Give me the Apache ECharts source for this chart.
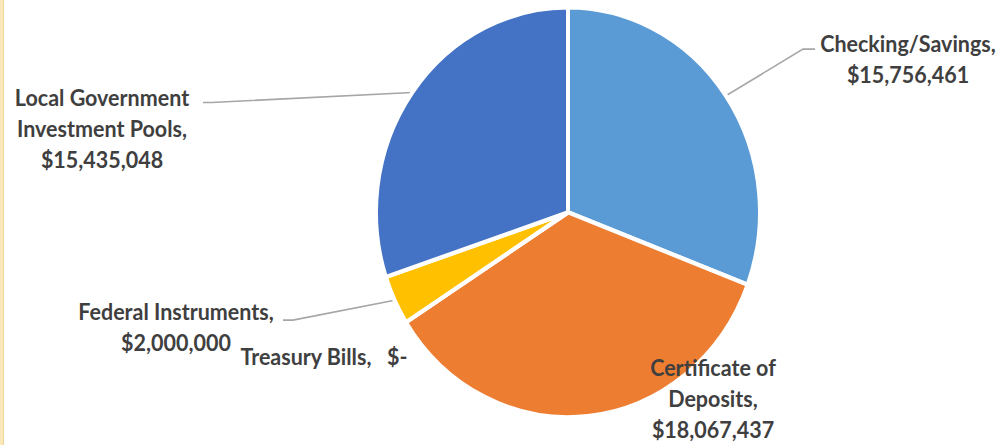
<!DOCTYPE html>
<html>
<head>
<meta charset="utf-8">
<script src="https://cdn.jsdelivr.net/npm/echarts@6/dist/echarts.min.js"></script>
<style>
  html, body { margin: 0; padding: 0; background: #ffffff; overflow: hidden; }
  #wrap { position: relative; width: 1000px; height: 445px; }
  #edge { position: absolute; left: 0; top: 0; width: 3px; height: 445px;
          background: #fbe8b8; border-right: 1px solid #efd69c; }
  #chart { position: absolute; left: 0; top: 0; width: 1000px; height: 417px;
           transform: scaleY(1.0671); transform-origin: 0 0; }
</style>
</head>
<body>
<div id="wrap">
  <div id="chart"></div>
  <div id="edge"></div>
</div>
<script>
// Portfolio holdings by investment type
const categories = [
  'Checking/Savings',
  'Certificate of\nDeposits',
  'Treasury Bills',
  'Federal Instruments',
  'Local Government\nInvestment Pools'
];
const amounts = [15756461, 18067437, 0, 2000000, 15435048];
const sliceColors = ['#5B9BD5', '#ED7D31', '#A5A5A5', '#FFC000', '#4472C4'];

// Where each label sits, and the bend/end of its leader line (null = no line)
const labelSpots = [
  { x: 908, y: 55,  line: [[803, 46], [815, 46]] },
  { x: 713, y: 373, line: null },
  { x: 324, y: 334, line: null },
  { x: 176, y: 306, line: [[293, 300], [283, 300]] },
  { x: 102, y: 120, line: [[212, 96], [203, 96]] }
];

function money(v) {
  return v === 0 ? '$-' : '$' + v.toLocaleString('en-US');
}

const chart = echarts.init(document.getElementById('chart'), null, { renderer: 'svg' });

chart.setOption({
  animation: false,
  backgroundColor: '#ffffff',
  series: [{
    type: 'pie',
    center: [568, 199],
    radius: 192,
    startAngle: 90,
    clockwise: true,
    minShowLabelAngle: 0,
    avoidLabelOverlap: false,
    itemStyle: { borderColor: '#ffffff', borderWidth: 4 },
    label: {
      show: true,
      position: 'outside',
      fontFamily: 'Lato',
      fontWeight: 'bold',
      fontSize: 21.5,
      lineHeight: 29,
      color: '#3f3f3f',
      align: 'center',
      formatter: function (p) {
        if (p.value === 0) return p.name + ',   ' + money(p.value);
        return p.name + ',\n' + money(p.value);
      }
    },
    labelLine: {
      show: true,
      length: 10,
      length2: 10,
      lineStyle: { color: '#A6A6A6', width: 1.5 }
    },
    labelLayout: function (params) {
      const spot = labelSpots[params.dataIndex];
      const out = { x: spot.x, y: spot.y, align: 'center', verticalAlign: 'middle' };
      if (spot.line && params.labelLinePoints) {
        out.labelLinePoints = [params.labelLinePoints[0], spot.line[0], spot.line[1]];
      }
      return out;
    },
    data: categories.map(function (name, i) {
      const item = {
        name: name,
        value: amounts[i],
        itemStyle: { color: sliceColors[i] }
      };
      if (!labelSpots[i].line) item.labelLine = { show: false };
      return item;
    })
  }]
});
</script>
</body>
</html>
